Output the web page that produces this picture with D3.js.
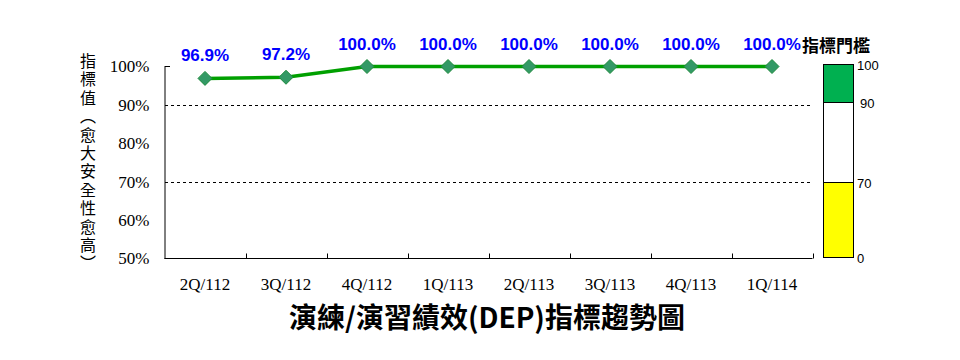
<!DOCTYPE html>
<html><head><meta charset="utf-8">
<script src="https://cdn.jsdelivr.net/npm/d3@7"></script>
<style>body{margin:0;background:#fff}svg{display:block}</style>
</head><body>
<script>
const categories = ["2Q/112","3Q/112","4Q/112","1Q/113","2Q/113","3Q/113","4Q/113","1Q/114"];
const values = [96.9, 97.2, 100.0, 100.0, 100.0, 100.0, 100.0, 100.0];
const yTicks = [50, 60, 70, 80, 90, 100];
const gridValues = [90, 70];
const thresholdBands = [{from:0,to:70,color:"#ffff00"},{from:70,to:90,color:"#ffffff"},{from:90,to:100,color:"#00b050"}];
const thresholdLabels = [100, 90, 70, 0];
const yTitle = "指標值︵愈大安全性愈高︶";
const title = "演練/演習績效(DEP)指標趨勢圖";
const legendTitle = "指標門檻";

const W = 960, H = 360;
const svg = d3.select("body").append("svg").attr("width", W).attr("height", H);
const x = d3.scaleBand().domain(categories).range([164.5, 812.5]);
const y = d3.scaleLinear().domain([50, 100]).range([258.5, 66.5]);
const serif = "'Liberation Serif','Times New Roman',serif";
const cjk = "'Noto Sans CJK TC','Noto Sans CJK SC',sans-serif";

// gridlines
svg.selectAll(".grid").data(gridValues).join("line")
  .attr("x1", 165).attr("x2", 812).attr("y1", d => Math.round(y(d)) + 0.5).attr("y2", d => Math.round(y(d)) + 0.5)
  .attr("stroke", "#000").attr("stroke-width", 1).attr("stroke-dasharray", "3,3");

// y axis
const yAxis = d3.axisLeft(y).tickValues(yTicks).tickFormat(d => d + "%").tickSize(0).tickPadding(15);
const gy = svg.append("g").attr("transform", "translate(164.5,0)").call(yAxis);
gy.select(".domain").attr("stroke", "#000");
gy.selectAll("text").attr("font-family", serif).attr("font-size", 17).attr("fill", "#000");
svg.append("line").attr("x1", 164.5).attr("x2", 170).attr("y1", y(100)).attr("y2", y(100)).attr("stroke", "#000");

// x axis
const xAxis = d3.axisBottom(x).tickSize(0).tickPadding(19);
const gx = svg.append("g").attr("transform", "translate(0,258.5)").call(xAxis);
gx.select(".domain").attr("stroke", "#000").attr("d", "M164.5,0H812.5");
gx.selectAll("text").attr("font-family", serif).attr("font-size", 17).attr("fill", "#000");
const bounds = categories.map(c => x(c) + x.bandwidth());
svg.selectAll(".xt").data(bounds).join("line")
  .attr("x1", d => Math.round(d) + 0.5).attr("x2", d => Math.round(d) + 0.5)
  .attr("y1", 258.5).attr("y2", 253.5).attr("stroke", "#000");

// line
const cx = d => x(d) + x.bandwidth() / 2;
const line = d3.line().x((d, i) => cx(categories[i])).y(d => y(d));
svg.append("path").datum(values).attr("d", line).attr("fill", "none")
  .attr("stroke", "#00a000").attr("stroke-width", 3.5);
svg.selectAll(".pt").data(values).join("path")
  .attr("d", "M0,-7L7,0L0,7L-7,0Z")
  .attr("transform", (d, i) => `translate(${cx(categories[i])},${y(d)})`)
  .attr("fill", "#339966").attr("stroke", "#1e8a3c").attr("stroke-width", 1);
svg.selectAll(".lbl").data(values).join("text")
  .attr("x", (d, i) => cx(categories[i])).attr("y", d => y(d) - 17)
  .attr("text-anchor", "middle").attr("font-family", "'Liberation Sans',Arial,sans-serif")
  .attr("font-weight", "bold").attr("font-size", 17).attr("fill", "#0000ff")
  .text(d => d.toFixed(1) + "%");

// y title (vertical)
svg.append("text").attr("x", 88).attr("y", 53)
  .attr("font-family", cjk).attr("font-size", 16).attr("fill", "#000")
  .style("writing-mode", "vertical-rl").style("text-orientation", "upright")
  .attr("letter-spacing", 2.4).text(yTitle);

// title
svg.append("text").attr("x", 487).attr("y", 328).attr("text-anchor", "middle")
  .attr("font-family", cjk).attr("font-weight", "bold").attr("font-size", 28).attr("fill", "#000")
  .text(title);

// threshold legend (positions follow the chart's own y scale, 0 clamped to the bottom)
const ly = d3.scaleLinear().domain([0, 70, 90, 100]).range([257.5, 182.5, 102.5, 64.5]);
svg.selectAll(".band").data(thresholdBands).join("rect")
  .attr("x", 823.5).attr("width", 30)
  .attr("y", d => ly(d.to)).attr("height", d => ly(d.from) - ly(d.to))
  .attr("fill", d => d.color).attr("stroke", "#000").attr("stroke-width", 1);
svg.selectAll(".tl").data(thresholdLabels).join("text")
  .attr("x", d => d === 90 ? 860 : 857).attr("y", d => ly(d) + 5)
  .attr("font-family", "'Liberation Sans',Arial,sans-serif").attr("font-size", 13).attr("fill", "#000")
  .text(d => d);
svg.append("text").attr("x", 836).attr("y", 52).attr("text-anchor", "middle")
  .attr("font-family", cjk).attr("font-weight", "bold").attr("font-size", 17).attr("fill", "#000")
  .text(legendTitle);
</script>
</body></html>
